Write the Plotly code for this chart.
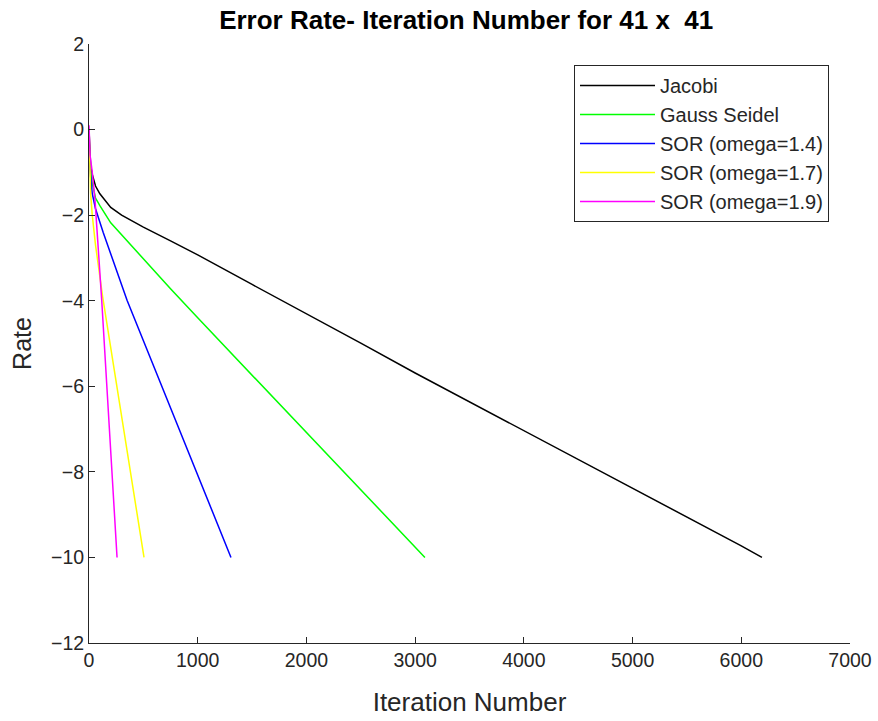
import plotly.graph_objects as go

# Iteration numbers and log10 error rates
jacobi_iter = [0, 5, 15, 30, 60, 100, 200, 300, 500, 750, 1000, 1500, 2000, 2500, 3000, 3500, 4000, 4500, 5000, 5500, 6000, 6190]
jacobi_rate = [0, -0.5, -0.85, -1.05, -1.32, -1.5, -1.82, -2.0, -2.28, -2.6, -2.93, -3.62, -4.3, -4.99, -5.69, -6.36, -7.04, -7.71, -8.39, -9.06, -9.73, -10.0]

gs_iter = [0, 5, 15, 30, 60, 100, 200, 350, 500, 750, 1000, 1500, 2000, 2500, 3090]
gs_rate = [0, -0.6, -0.95, -1.25, -1.6, -1.78, -2.18, -2.6, -3.03, -3.72, -4.4, -5.74, -7.08, -8.42, -10.0]

sor14_iter = [0, 5, 15, 30, 60, 130, 350, 600, 800, 1000, 1306]
sor14_rate = [0, -0.7, -1.1, -1.5, -1.85, -2.4, -3.99, -5.56, -6.83, -8.09, -10.0]

sor17_iter = [0, 5, 15, 30, 60, 125, 250, 400, 506]
sor17_rate = [0, -0.8, -1.5, -2.0, -2.7, -3.9, -5.92, -8.3, -10.0]

sor19_iter = [0, 10, 30, 55, 117, 190, 258]
sor19_rate = [0.1, -0.6, -1.0, -1.64, -3.99, -7.1, -10.0]

series = [
    ("Jacobi", jacobi_iter, jacobi_rate, "#000000"),
    ("Gauss Seidel", gs_iter, gs_rate, "#00FF00"),
    ("SOR (omega=1.4)", sor14_iter, sor14_rate, "#0000FF"),
    ("SOR (omega=1.7)", sor17_iter, sor17_rate, "#FFFF00"),
    ("SOR (omega=1.9)", sor19_iter, sor19_rate, "#FF00FF"),
]

x_ticks = [0, 1000, 2000, 3000, 4000, 5000, 6000, 7000]
y_ticks = [2, 0, -2, -4, -6, -8, -10, -12]

fig = go.Figure()
for i, (name, xs, ys, color) in enumerate(series):
    fig.add_trace(go.Scatter(x=xs, y=ys, mode="lines", name=name, legendgroup=f"g{i}",
                             line=dict(color=color, width=1.5)))

axis_color = "#262626"
fig.update_layout(
    width=878, height=721,
    margin=dict(l=89, r=28, t=44, b=78, autoexpand=False),
    paper_bgcolor="white", plot_bgcolor="white",
    font=dict(family="Liberation Sans, Arial, sans-serif", color=axis_color, size=19),
    title=dict(text="<b>Error Rate- Iteration Number for 41 x  41</b>",
               x=0.531, xanchor="center", y=0.972, yanchor="middle",
               font=dict(size=26, color="#000000")),
    xaxis=dict(range=[0, 7000], tickvals=x_ticks, ticks="inside", ticklen=6,
               tickcolor=axis_color, showline=True, linecolor=axis_color, linewidth=1,
               showgrid=False, zeroline=False, mirror=False, tickfont=dict(size=19.5),
               automargin=False,
               title=dict(text="Iteration Number", font=dict(size=26), standoff=22)),
    yaxis=dict(range=[-12, 2], tickvals=y_ticks, ticks="inside", ticklen=6,
               tickcolor=axis_color, showline=True, linecolor=axis_color, linewidth=1,
               showgrid=False, zeroline=False, mirror=False, tickfont=dict(size=19.5),
               automargin=False,
               title=dict(text="Rate", font=dict(size=25), standoff=12)),
    legend=dict(x=0.9724, xanchor="right", y=0.965, yanchor="top",
                bgcolor="white", bordercolor=axis_color, borderwidth=1,
                font=dict(size=20, color=axis_color), itemwidth=75,
                tracegroupgap=0),
    showlegend=True,
)

fig.write_html("out.html")
